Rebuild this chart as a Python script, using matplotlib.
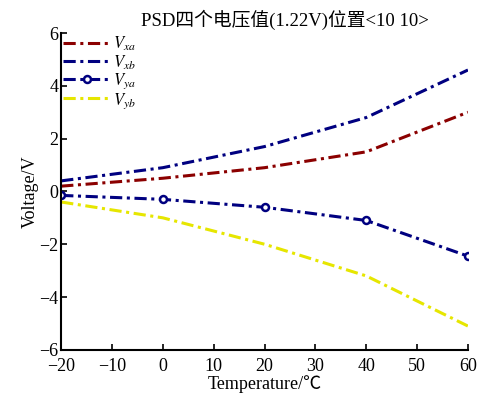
import numpy as np
import matplotlib
matplotlib.use("Agg")
from matplotlib import pyplot as plt

temperature = [-20, 0, 20, 40, 60]
v_xa = [0.2, 0.5, 0.9, 1.5, 3.0]
v_xb = [0.4, 0.9, 1.7, 2.8, 4.6]
v_ya = [-0.15, -0.3, -0.6, -1.1, -2.45]
v_yb = [-0.4, -1.0, -2.0, -3.2, -5.1]

plt.rcParams['font.family'] = ['Liberation Serif', 'Noto Sans CJK SC']
plt.rcParams['mathtext.fontset'] = 'stix'

fig = plt.figure(figsize=(4.78, 3.98), dpi=100)
ax = fig.add_axes([0.128, 0.121, 0.851, 0.796])

dash = (4, 1.5, 1, 1.5)
ax.plot(temperature, v_xa, color='#8b0000', lw=2.2, dashes=dash, label='$V_{xa}$')
ax.plot(temperature, v_xb, color='#000080', lw=2.2, dashes=dash, label='$V_{xb}$')
ax.plot(temperature, v_ya, color='#000080', lw=2.2, dashes=dash, marker='o',
        mfc='white', mec='#000080', mew=1.8, ms=5, label='$V_{ya}$')
ax.plot(temperature, v_yb, color='#e6e600', lw=2.2, dashes=dash, label='$V_{yb}$')

ax.set_xlim(-20, 60)
ax.set_ylim(-6, 6)
ax.set_xticks(np.arange(-20, 61, 10))
ax.set_yticks(np.arange(-6, 7, 2))
ax.tick_params(direction='in', labelsize=13, width=1.2, length=4, pad=2)
ax.tick_params(axis='x', pad=6)
for s in ['top', 'right']:
    ax.spines[s].set_visible(False)
for s in ['left', 'bottom']:
    ax.spines[s].set_linewidth(1.5)

ax.set_xlabel('Temperature/℃', fontsize=13, labelpad=0)
ax.set_ylabel('Voltage/V', fontsize=13, labelpad=0)
ax.set_title('PSD四个电压值(1.22V)位置<10 10>', fontsize=13.5, pad=5, x=0.55)
ax.legend(loc='upper left', frameon=False, fontsize=12, handlelength=2.9,
          handletextpad=0.1, labelspacing=0.0, borderaxespad=0.1,
          borderpad=0.0)

fig.savefig('out.png', dpi=100)
